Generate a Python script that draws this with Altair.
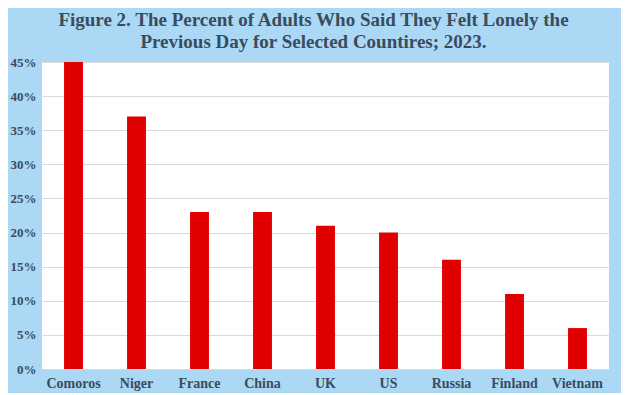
import altair as alt
import pandas as pd

countries = ["Comoros", "Niger", "France", "China", "UK", "US", "Russia", "Finland", "Vietnam"]
percent = [45, 37, 23, 23, 21, 20, 16, 11, 6]
y_ticks = [0, 5, 10, 15, 20, 25, 30, 35, 40, 45]
title_lines = ["Figure 2. The Percent of Adults  Who Said They Felt Lonely the",
               "Previous Day for Selected Countires; 2023."]

df = pd.DataFrame({"country": countries, "percent": percent})

TEXT = "#3b4b5c"
FONT = "Liberation Serif"

chart = alt.Chart(df).mark_bar(color="#e00000").encode(
    x=alt.X("country:N", sort=countries,
            scale=alt.Scale(paddingInner=0.7, paddingOuter=0.35),
            axis=alt.Axis(title=None, labelAngle=0, ticks=False, domain=False,
                          labelPadding=7, labelFont=FONT, labelFontSize=14,
                          labelFontWeight="bold", labelColor=TEXT)),
    y=alt.Y("percent:Q", scale=alt.Scale(domain=[0, 45], nice=False),
            axis=alt.Axis(title=None, values=y_ticks, labelExpr="datum.value + '%'",
                          ticks=False, domain=False, labelPadding=6,
                          labelFont=FONT, labelFontSize=13, labelFontWeight="bold",
                          labelColor=TEXT, gridColor="#d9d9d9", gridWidth=1)),
).properties(
    width=567, height=307,
    title=alt.TitleParams(title_lines, font=FONT, fontSize=19, fontWeight="bold",
                          color=TEXT, anchor="middle", dx=-12, offset=4, lineHeight=22),
    autosize=alt.AutoSizeParams(type="none"),
    padding={"left": 34, "top": 54, "right": 12, "bottom": 24},
    background="#aad8f5",
).configure_view(fill="white", stroke=None)

chart.save("out.html", embed_options={"renderer": "svg", "actions": False})
